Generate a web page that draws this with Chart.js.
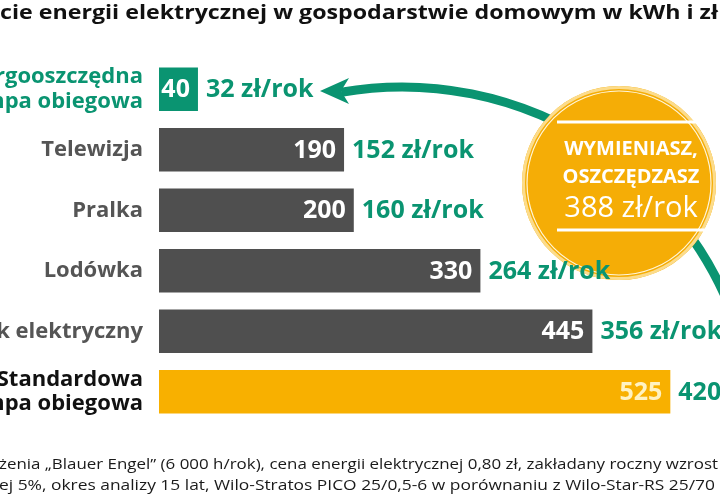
<!DOCTYPE html>
<html>
<head>
<meta charset="utf-8">
<script src="https://cdn.jsdelivr.net/npm/chart.js@4.4.1/dist/chart.umd.min.js"></script>
<style>
  html, body { margin: 0; padding: 0; background: #fff; }
</style>
</head>
<body>
<canvas id="chart" width="720" height="500"></canvas>
<script>
// dane: roczne zuzycie energii (kWh) i koszt (zl/rok)
var categories = [
    ["Energooszczędna", "pompa obiegowa"],
    "Telewizja",
    "Pralka",
    "Lodówka",
    "Czajnik elektryczny",
    ["Standardowa", "pompa obiegowa"]
];
var kwhPerYear = [40, 190, 200, 330, 445, 525];
var costPerYear = [32, 152, 160, 264, 356, 420];
var savingPerYear = 388;

var titleText = "Zużycie energii elektrycznej w gospodarstwie domowym w kWh i zł";
var titleVisible = "cie energii elektrycznej w gospodarstwie domowym w kWh i zł";
var noteLines = [
    "żenia „Blauer Engel” (6 000 h/rok), cena energii elektrycznej 0,80 zł, zakładany roczny wzrost",
    "ej 5%, okres analizy 15 lat, Wilo-Stratos PICO 25/0,5-6 w porównaniu z Wilo-Star-RS 25/70"
];

var GREEN = "#0a9471";
var GREY = "#4f4f4f";
var YELLOW = "#f8b000";
var FONT = '"Open Sans", "Noto Sans", sans-serif';

var barColors = kwhPerYear.map(function(v, i) {
    if (i === 0) return GREEN;
    if (i === kwhPerYear.length - 1) return YELLOW;
    return GREY;
});

// tytul, przypis, strzalka i kolo "WYMIENIASZ, OSZCZEDZASZ"
var decor = {
    id: "decor",
    beforeDatasetsDraw: function(chart) {
        var c = chart.ctx;
        c.save();

        // tytul (przyciety z lewej)
        c.font = "bold 20px " + FONT;
        c.fillStyle = "#111";
        c.textBaseline = "alphabetic";
        var s = 718 / c.measureText(titleVisible).width;
        c.save();
        c.translate(718, 19);
        c.scale(s, 1);
        c.textAlign = "right";
        c.fillText(titleText, 0, 0);
        c.restore();

        // przypis
        c.font = "14.5px " + FONT;
        c.fillStyle = "#1a1a1a";
        var noteW = [719, 716];
        var noteY = [469, 490];
        noteLines.forEach(function(t, i) {
            var k = noteW[i] / c.measureText(t).width;
            c.save();
            c.translate(-1, noteY[i]);
            c.scale(k, 1);
            c.textAlign = "left";
            c.fillText(t, 0, 0);
            c.restore();
        });

        // zielony luk ze strzalka
        var cx = 402, cy = 441, r = 354;
        c.strokeStyle = GREEN;
        c.lineWidth = 9;
        c.beginPath();
        c.arc(cx, cy, r, Math.atan2(91 - cy, 341 - cx), -0.2);
        c.stroke();
        c.fillStyle = GREEN;
        c.beginPath();
        c.moveTo(320, 91);
        c.lineTo(349, 78);
        c.lineTo(341, 91);
        c.lineTo(349, 104);
        c.closePath();
        c.fill();

        // kolo
        var kx = 619, ky = 183, kr = 97;
        c.fillStyle = "#f5ad06";
        c.beginPath();
        c.arc(kx, ky, kr, 0, Math.PI * 2);
        c.fill();
        c.strokeStyle = "#fcdc8c";
        c.lineWidth = 3;
        c.beginPath();
        c.arc(kx, ky, kr - 1.5, 0, Math.PI * 2);
        c.stroke();
        c.strokeStyle = "#fff6dc";
        c.lineWidth = 1.2;
        c.beginPath();
        c.arc(kx, ky, kr - 5, 0, Math.PI * 2);
        c.stroke();

        c.strokeStyle = "#fff";
        c.lineWidth = 3;
        c.beginPath();
        c.moveTo(557, 122); c.lineTo(707, 122);
        c.moveTo(557, 230); c.lineTo(707, 230);
        c.stroke();

        c.fillStyle = "#fff";
        c.textAlign = "center";
        c.font = "bold 20px " + FONT;
        c.fillText("WYMIENIASZ,", 631, 155);
        c.fillText("OSZCZĘDZASZ", 631, 183);
        c.font = "29px " + FONT;
        c.fillText(savingPerYear + " zł/rok", 631, 217);
        c.restore();
    }
};

// wartosci kWh w slupkach i koszt obok
var barLabels = {
    id: "barLabels",
    afterDatasetsDraw: function(chart) {
        var c = chart.ctx;
        var meta = chart.getDatasetMeta(0);
        c.save();
        c.font = "bold 25px " + FONT;
        c.textBaseline = "middle";
        meta.data.forEach(function(bar, i) {
            var last = i === kwhPerYear.length - 1;
            c.textAlign = "right";
            c.fillStyle = last ? "#fff2c2" : "#fff";
            c.fillText(String(kwhPerYear[i]), bar.x - 8, bar.y + 1);
            c.textAlign = "left";
            c.fillStyle = GREEN;
            c.fillText(costPerYear[i] + " zł/rok", bar.x + 8, bar.y + 1);
        });
        c.restore();
    }
};

var chart = new Chart(document.getElementById("chart"), {
    type: "bar",
    data: {
        labels: categories,
        datasets: [{
            data: kwhPerYear,
            backgroundColor: barColors,
            barPercentage: 0.72,
            categoryPercentage: 1
        }]
    },
    options: {
        indexAxis: "y",
        responsive: false,
        animation: false,
        devicePixelRatio: 1,
        layout: { padding: { top: 59, bottom: 78, left: 0, right: 0 } },
        plugins: {
            legend: { display: false },
            tooltip: { enabled: false },
            title: { display: false }
        },
        scales: {
            x: { display: false, min: 0, max: 576 },
            y: {
                afterFit: function(scale) { scale.width = 159; },
                grid: { display: false, drawTicks: false },
                border: { display: false },
                ticks: {
                    padding: 16,
                    color: function(ctx) {
                        if (ctx.index === 0) return GREEN;
                        if (ctx.index === categories.length - 1) return "#111";
                        return "#555";
                    },
                    font: { family: FONT, size: 22, weight: "bold", lineHeight: 1.1 }
                }
            }
        }
    },
    plugins: [decor, barLabels]
});
</script>
</body>
</html>
